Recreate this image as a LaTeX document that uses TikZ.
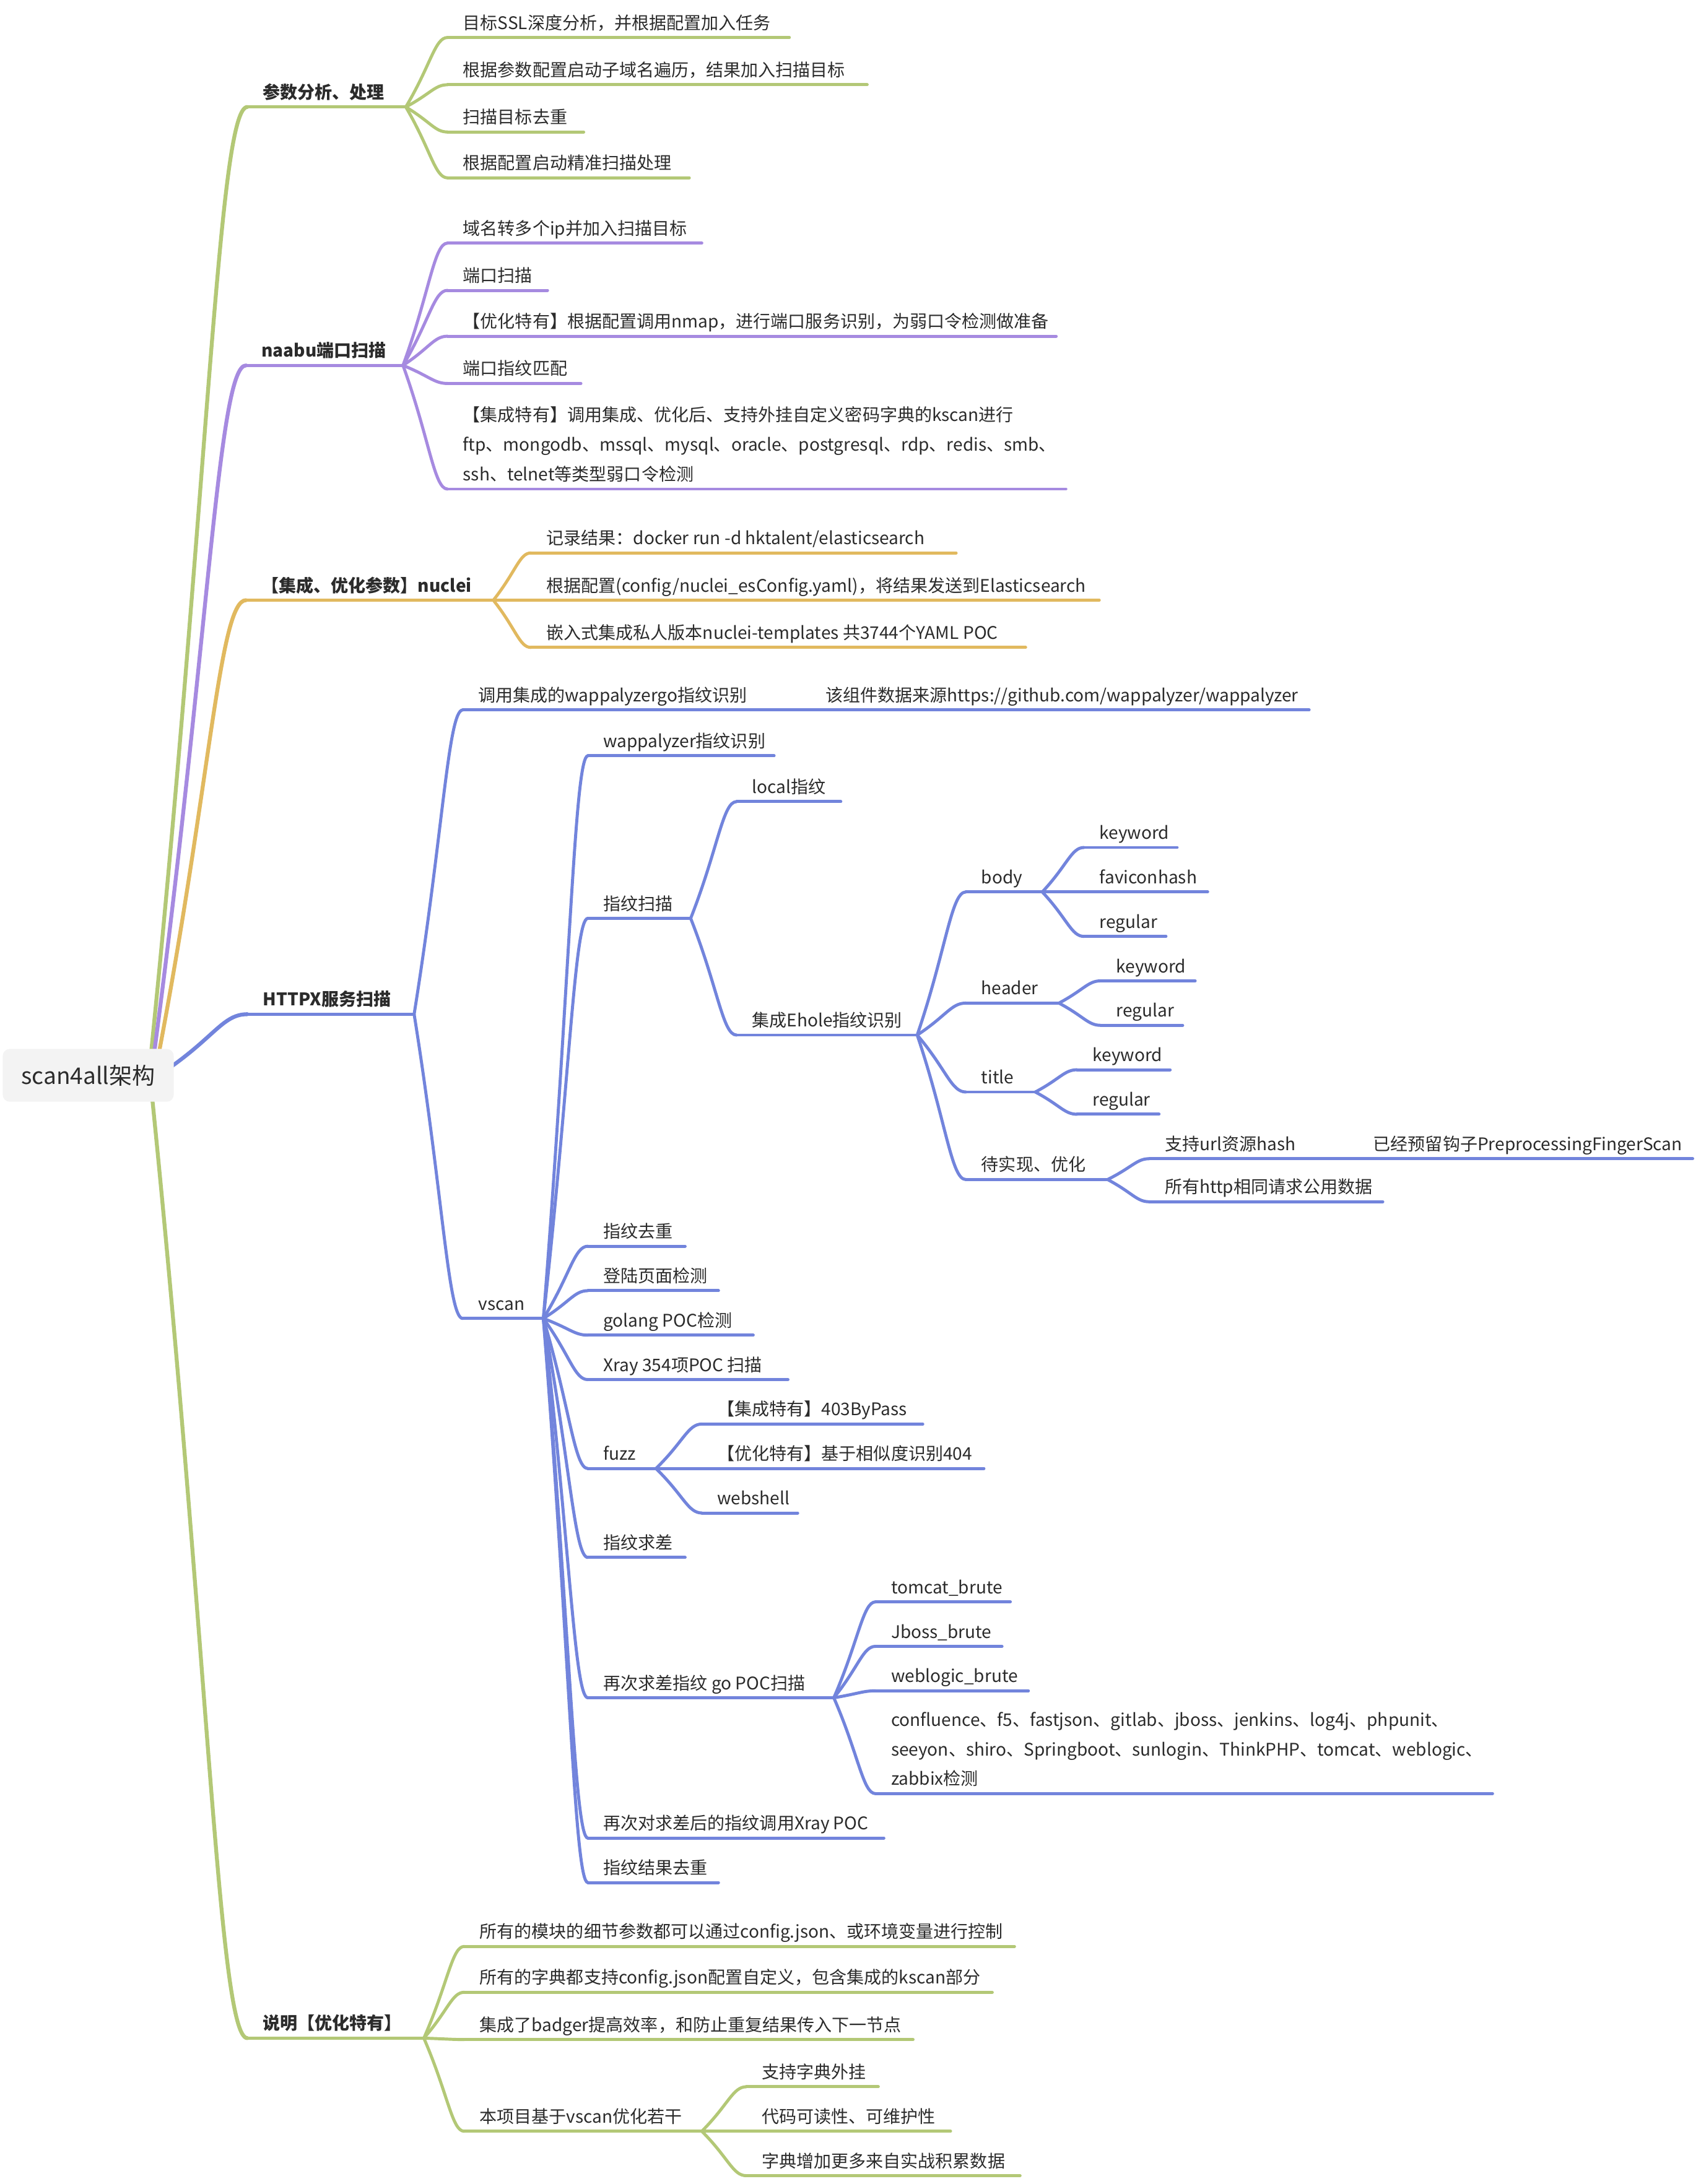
\documentclass[tikz,border=0pt]{standalone}
\usepackage{fontspec}
\setmainfont{Noto Sans CJK SC}
\usetikzlibrary{calc}
\definecolor{cg}{HTML}{B3C876}
\definecolor{cp}{HTML}{A68AE0}
\definecolor{cy}{HTML}{E1B95F}
\definecolor{cb}{HTML}{7284DC}
\definecolor{tx}{HTML}{2B2B2B}
\definecolor{rootfill}{HTML}{F3F3F3}
\tikzset{
  lbl/.style={inner sep=0pt, font=\fontsize{12.5}{21.3}\selectfont, text=tx},
  lvone/.style={font=\fontsize{12.5}{21.3}\selectfont\bfseries},
  link/.style={line width=2.2pt, line cap=round},
  rootlink/.style={line width=2.8pt},
  rootbox/.style={fill=rootfill, rounded corners=5pt, minimum width=123pt, minimum height=38pt,
    inner sep=0pt, font=\fontsize{16.5}{19}\selectfont, text=tx},
}
\newcommand\tp[7][]{%
  \coordinate (#2s) at (#4,#5);
  \coordinate (#2e) at (#6,#5);
  \draw[link,#3] (#2s) -- (#2e);
  \node[lbl,#1,anchor=base west] (#2) at (#4+11,#5-6) {#7};
}
\newcommand\cn[3]{\draw[link,#1] (#2e) .. controls ($(#2e)!0.6!(#3s)$) and ($(#2e|-#3s)!0.7!(#3s)$) .. (#3s);}
\begin{document}
\begin{tikzpicture}[x=1pt,y=-1pt]
\useasboundingbox (0,0) rectangle (1224,1572);
% root anchors
\coordinate (rgae) at (108,765);
\coordinate (rpe) at (110,765);
\coordinate (rye) at (113,765);
\coordinate (rbe) at (120,770);
\coordinate (rgbe) at (109,785);
% ---------------- 参数分析、处理
\tp[lvone]{A}{cg}{178}{77}{292}{参数分析、处理}
\cn{cg,rootlink}{rga}{A}
\tp{A1}{cg}{322}{27}{568}{目标SSL深度分析，并根据配置加入任务}
\tp{A2}{cg}{322}{61}{624}{根据参数配置启动子域名遍历，结果加入扫描目标}
\tp{A3}{cg}{322}{95}{420}{扫描目标去重}
\tp{A4}{cg}{322}{128}{496}{根据配置启动精准扫描处理}
\cn{cg}{A}{A1}\cn{cg}{A}{A2}\cn{cg}{A}{A3}\cn{cg}{A}{A4}
% ---------------- naabu
\tp[lvone]{B}{cp}{177}{263}{290}{naabu端口扫描}
\cn{cp,rootlink}{rp}{B}
\tp{B1}{cp}{322}{175}{505}{域名转多个ip并加入扫描目标}
\tp{B2}{cp}{322}{209}{394}{端口扫描}
\tp{B3}{cp}{322}{242}{760}{【优化特有】根据配置调用nmap，进行端口服务识别，为弱口令检测做准备}
\tp{B4}{cp}{322}{276}{418}{端口指纹匹配}
\tp{B5}{cp}{322}{352}{767}{\begin{tabular}[b]{@{}l@{}}【集成特有】调用集成、优化后、支持外挂自定义密码字典的kscan进行\\ftp、mongodb、mssql、mysql、oracle、postgresql、rdp、redis、smb、\\ssh、telnet等类型弱口令检测\end{tabular}}
\cn{cp}{B}{B1}\cn{cp}{B}{B2}\cn{cp}{B}{B3}\cn{cp}{B}{B4}\cn{cp}{B}{B5}
% ---------------- nuclei
\tp[lvone]{C}{cy}{177}{432}{355}{【集成、优化参数】nuclei}
\cn{cy,rootlink}{ry}{C}
\tp{C1}{cy}{382}{398}{688}{记录结果：docker run -d hktalent/elasticsearch}
\tp{C2}{cy}{382}{432}{791}{根据配置(config/nuclei\_esConfig.yaml)，将结果发送到Elasticsearch}
\tp{C3}{cy}{382}{466}{738}{嵌入式集成私人版本nuclei-templates 共3744个YAML POC}
\cn{cy}{C}{C1}\cn{cy}{C}{C2}\cn{cy}{C}{C3}
% ---------------- HTTPX
\tp[lvone]{D}{cb}{178}{730}{298}{HTTPX服务扫描}
\cn{cb,rootlink}{rb}{D}
\tp{D1}{cb}{333}{511}{545}{调用集成的wappalyzergo指纹识别}
\tp{D1a}{cb}{583}{511}{942}{该组件数据来源https://github.com/wappalyzer/wappalyzer}
\cn{cb}{D1}{D1a}
\tp{V}{cb}{333}{949}{391}{vscan}
\cn{cb}{D}{D1}\cn{cb}{D}{V}
% vscan children
\tp{V1}{cb}{423}{544}{557}{wappalyzer指纹识别}
\tp{V2}{cb}{423}{661}{497}{指纹扫描}
\tp{V3}{cb}{423}{897}{493}{指纹去重}
\tp{V4}{cb}{423}{929}{517}{登陆页面检测}
\tp{V5}{cb}{423}{961}{542}{golang POC检测}
\tp{V6}{cb}{423}{993}{567}{Xray 354项POC 扫描}
\tp{V7}{cb}{423}{1057}{472}{fuzz}
\tp{V8}{cb}{423}{1121}{493}{指纹求差}
\tp{V9}{cb}{423}{1222}{600}{再次求差指纹 go POC扫描}
\tp{V10}{cb}{423}{1323}{636}{再次对求差后的指纹调用Xray POC}
\tp{V11}{cb}{423}{1355}{517}{指纹结果去重}
\foreach \k in {1,...,11}{\cn{cb}{V}{V\k}}
% 指纹扫描
\tp{L}{cb}{530}{577}{605}{local指纹}
\tp{H}{cb}{530}{745}{660}{集成Ehole指纹识别}
\cn{cb}{V2}{L}\cn{cb}{V2}{H}
\tp{E1}{cb}{695}{642}{750}{body}
\tp{E2}{cb}{695}{722}{762}{header}
\tp{E3}{cb}{695}{786}{745}{title}
\tp{E4}{cb}{695}{849}{797}{待实现、优化}
\cn{cb}{H}{E1}\cn{cb}{H}{E2}\cn{cb}{H}{E3}\cn{cb}{H}{E4}
\tp{E1a}{cb}{780}{610}{847}{keyword}
\tp{E1b}{cb}{780}{642}{869}{faviconhash}
\tp{E1c}{cb}{780}{674}{839}{regular}
\cn{cb}{E1}{E1a}\cn{cb}{E1}{E1b}\cn{cb}{E1}{E1c}
\tp{E2a}{cb}{792}{706}{860}{keyword}
\tp{E2b}{cb}{792}{738}{851}{regular}
\cn{cb}{E2}{E2a}\cn{cb}{E2}{E2b}
\tp{E3a}{cb}{775}{770}{842}{keyword}
\tp{E3b}{cb}{775}{802}{834}{regular}
\cn{cb}{E3}{E3a}\cn{cb}{E3}{E3b}
\tp{E4a}{cb}{827}{834}{940}{支持url资源hash}
\tp{E4x}{cb}{977}{834}{1218}{已经预留钩子PreprocessingFingerScan}
\tp{E4b}{cb}{827}{865}{995}{所有http相同请求公用数据}
\cn{cb}{E4}{E4a}\cn{cb}{E4a}{E4x}\cn{cb}{E4}{E4b}
% fuzz
\tp{F1}{cb}{505}{1025}{664}{【集成特有】403ByPass}
\tp{F2}{cb}{505}{1057}{708}{【优化特有】基于相似度识别404}
\tp{F3}{cb}{505}{1089}{574}{webshell}
\cn{cb}{V7}{F1}\cn{cb}{V7}{F2}\cn{cb}{V7}{F3}
% go POC
\tp{G1}{cb}{630}{1153}{727}{tomcat\_brute}
\tp{G2}{cb}{630}{1185}{721}{Jboss\_brute}
\tp{G3}{cb}{630}{1217}{740}{weblogic\_brute}
\tp{G4}{cb}{630}{1291}{1074}{\begin{tabular}[b]{@{}l@{}}confluence、f5、fastjson、gitlab、jboss、jenkins、log4j、phpunit、\\seeyon、shiro、Springboot、sunlogin、ThinkPHP、tomcat、weblogic、\\zabbix检测\end{tabular}}
\cn{cb}{V9}{G1}\cn{cb}{V9}{G2}\cn{cb}{V9}{G3}\cn{cb}{V9}{G4}
% ---------------- 说明
\tp[lvone]{S}{cg}{178}{1467}{305}{说明【优化特有】}
\cn{cg,rootlink}{rgb}{S}
\tp{S1}{cg}{334}{1401}{730}{所有的模块的细节参数都可以通过config.json、或环境变量进行控制}
\tp{S2}{cg}{334}{1434}{714}{所有的字典都支持config.json配置自定义，包含集成的kscan部分}
\tp{S3}{cg}{334}{1468}{657}{集成了badger提高效率，和防止重复结果传入下一节点}
\tp{S4}{cg}{334}{1534}{505}{本项目基于vscan优化若干}
\cn{cg}{S}{S1}\cn{cg}{S}{S2}\cn{cg}{S}{S3}\cn{cg}{S}{S4}
\tp{S4a}{cg}{537}{1502}{632}{支持字典外挂}
\tp{S4b}{cg}{537}{1534}{684}{代码可读性、可维护性}
\tp{S4c}{cg}{537}{1566}{734}{字典增加更多来自实战积累数据}
\cn{cg}{S4}{S4a}\cn{cg}{S4}{S4b}\cn{cg}{S4}{S4c}
% ---------------- root
\node[rootbox] (root) at (63.5,774) {scan4all架构};
\end{tikzpicture}
\end{document}
